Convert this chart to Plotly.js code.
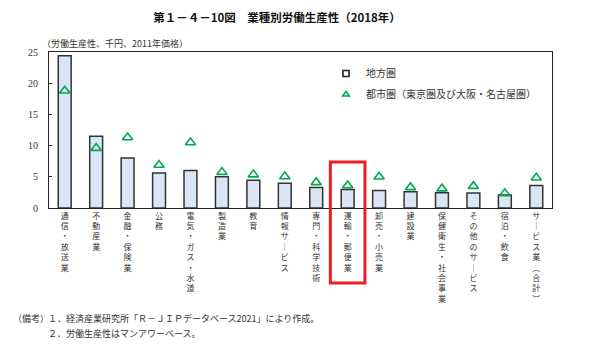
<!DOCTYPE html>
<html>
<head>
<meta charset="utf-8">
<script src="https://cdn.plot.ly/plotly-3.0.1.min.js"></script>
<style>html,body{margin:0;padding:0;background:#fff;}#chart{width:594px;height:361px;}</style>
</head>
<body>
<div id="chart"></div>
<script>
// Categories (vertical labels stacked one character per line)
const categories = [
  "通信・放送業", "不動産業", "金融・保険業", "公務", "電気・ガス・水道",
  "製造業", "教育", "情報サービス", "専門・科学技術", "運輸・郵便業",
  "卸売・小売業", "建設業", "保健衛生・社会事業", "その他のサービス", "宿泊・飲食",
  "サービス業（合計）"
];
// 地方圏 (bars)
const regionalValues = [24.4, 11.5, 8.0, 5.6, 6.0, 5.0, 4.45, 3.95, 3.3, 2.95, 2.8, 2.6, 2.45, 2.4, 2.1, 3.6];
// 都市圏（東京圏及び大阪・名古屋圏） (triangles)
const urbanValues = [18.8, 9.6, 11.3, 6.9, 10.5, 5.75, 5.35, 5.05, 4.1, 3.6, 5.0, 3.3, 3.1, 3.5, 2.35, 4.85];
const yTicks = [0, 5, 10, 15, 20, 25];
const seriesNames = ["地方圏", "都市圏（東京圏及び大阪・名古屋圏）"];
const highlighted = "運輸・郵便業";

function verticalLabel(s) {
  const map = {"ー": "｜", "（": "︵", "）": "︶"};
  return Array.from(s).map(c => map[c] || c).join("<br>");
}
const tickText = categories.map(verticalLabel);

const W = 594, H = 361;
const L = 49, R = 42, T = 52, B = 153;
const pw = W - L - R, ph = H - T - B;
const px2x = v => (v - L) / pw;
const px2y = v => (H - B - v) / ph;

const jp = "'Noto Sans CJK JP', 'Noto Sans', sans-serif";
const hi = categories.indexOf(highlighted);

const traces = [
  {
    type: "bar", x: categories, y: regionalValues, name: seriesNames[0],
    width: 0.41, showlegend: false,
    marker: {color: "#dae6f3", line: {color: "#333333", width: 1.5}}
  },
  {
    type: "scatter", mode: "markers", x: categories, y: urbanValues, name: seriesNames[1],
    showlegend: false,
    marker: {symbol: "triangle-up-open", size: 9, color: "#00a94f", line: {width: 1.6, color: "#00a94f"}}
  },
  // legend entries
  {
    type: "scatter", mode: "markers", x: [categories[0]], y: [null], name: seriesNames[0],
    legendgroup: "a", hoverinfo: "skip",
    marker: {symbol: "square-open", size: 6, color: "#222", line: {width: 1.6, color: "#222"}}
  },
  {
    type: "scatter", mode: "markers", x: [categories[0]], y: [null], name: seriesNames[1],
    legendgroup: "b", hoverinfo: "skip",
    marker: {symbol: "triangle-up-open", size: 6, color: "#00a94f", line: {width: 1.6, color: "#00a94f"}}
  }
];

const layout = {
  width: W, height: H,
  margin: {l: L, r: R, t: T, b: B, pad: 0},
  paper_bgcolor: "#ffffff", plot_bgcolor: "#ffffff",
  font: {family: jp, size: 10, color: "#333"},
  title: {
    text: "<b>第１－４－10図　業種別労働生産性（2018年）</b>",
    xref: "container", x: 277 / W, xanchor: "center",
    yref: "container", y: 1 - 18 / H, yanchor: "middle",
    font: {family: jp, size: 11.5, color: "#111"}
  },
  xaxis: {
    type: "category", range: [-0.5, categories.length - 0.5],
    tickmode: "array", tickvals: categories, ticktext: tickText,
    tickangle: 0, ticks: "", showgrid: false, zeroline: false,
    showline: true, linecolor: "#222", linewidth: 1, mirror: true,
    tickfont: {family: jp, size: 8, color: "#333"},
    automargin: false, fixedrange: true
  },
  yaxis: {
    range: [0, 25], tickmode: "array", tickvals: yTicks,
    ticks: "inside", ticklen: 3, tickcolor: "#222", tickwidth: 1,
    showgrid: false, zeroline: false,
    showline: true, linecolor: "#222", linewidth: 1, mirror: true,
    tickfont: {family: "'Liberation Serif', serif", size: 10, color: "#333"},
    ticklabelstandoff: 8,
    automargin: false, fixedrange: true
  },
  bargap: 0,
  showlegend: true,
  legend: {
    x: px2x(326), xanchor: "left", y: px2y(59), yanchor: "top",
    bgcolor: "rgba(0,0,0,0)", borderwidth: 0,
    traceorder: "grouped", tracegroupgap: 2, itemwidth: 30,
    font: {family: jp, size: 10, color: "#333"}
  },
  shapes: [
    {
      type: "rect", xref: "x", yref: "paper",
      x0: hi - 0.55, x1: hi + 0.55, y0: px2y(283), y1: px2y(162),
      line: {color: "#ee1c25", width: 3}, fillcolor: "rgba(0,0,0,0)"
    }
  ],
  annotations: [
    {
      text: "（労働生産性、千円、2011年価格）", xref: "paper", yref: "paper",
      x: px2x(40), y: px2y(43), xanchor: "left", yanchor: "middle", showarrow: false,
      font: {family: jp, size: 9, color: "#333"}
    },
    {
      text: "（備考）", xref: "paper", yref: "paper",
      x: px2x(11), y: px2y(318), xanchor: "left", yanchor: "middle", showarrow: false,
      font: {family: jp, size: 9, color: "#333"}
    },
    {
      text: "１．経済産業研究所「Ｒ－ＪＩＰデータベース2021」により作成。", xref: "paper", yref: "paper",
      x: px2x(46), y: px2y(318), xanchor: "left", yanchor: "middle", showarrow: false,
      font: {family: jp, size: 9, color: "#333"}
    },
    {
      text: "２．労働生産性はマンアワーベース。", xref: "paper", yref: "paper",
      x: px2x(46), y: px2y(333), xanchor: "left", yanchor: "middle", showarrow: false,
      font: {family: jp, size: 9, color: "#333"}
    }
  ]
};

Plotly.newPlot("chart", traces, layout, {staticPlot: true, displayModeBar: false});
</script>
</body>
</html>
